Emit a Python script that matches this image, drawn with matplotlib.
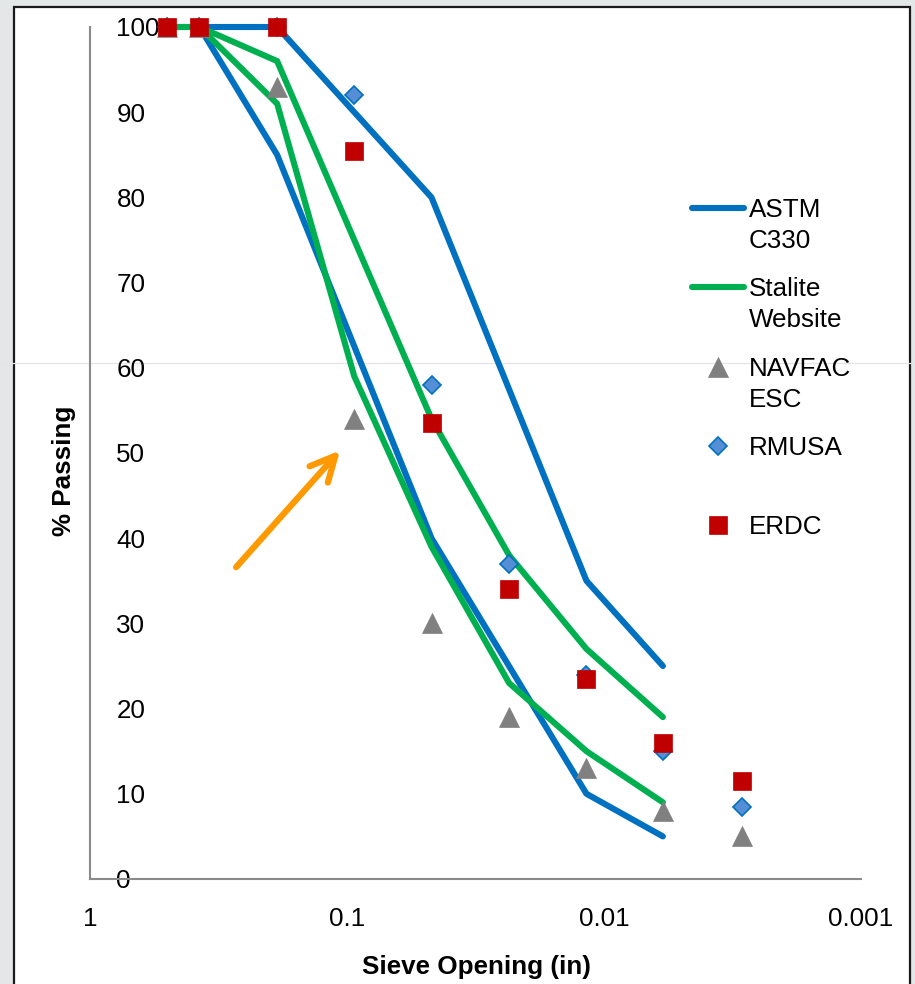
import matplotlib
matplotlib.use('Agg')
import matplotlib.pyplot as plt
from matplotlib.lines import Line2D
from matplotlib.patches import Rectangle
from matplotlib.ticker import NullLocator, FixedLocator

plt.rcParams['font.family'] = ['Liberation Sans', 'DejaVu Sans']

# ---------------- data ----------------
sieve_in = [0.5, 0.375, 0.187, 0.0937, 0.0469, 0.0234, 0.0117, 0.0059, 0.0029]

astm_x = [0.375, 0.187, 0.0469, 0.0117, 0.0059]
astm_upper = [100, 100, 80, 35, 25]
astm_lower = [100, 85, 40, 10, 5]

stalite_x = [0.5, 0.375, 0.187, 0.0937, 0.0469, 0.0234, 0.0117, 0.0059]
stalite_upper = [100, 100, 96, 75, 54, 38, 27, 19]
stalite_lower = [100, 100, 91, 59, 39, 23, 15, 9]

navfac = [100, 100, 93, 54, 30, 19, 13, 8, 5]
rmusa = [100, 100, 100, 92, 58, 37, 24, 15, 8.5]
erdc = [100, 100, 100, 85.5, 53.5, 34, 23.5, 16, 11.5]

x_ticks = [1, 0.1, 0.01, 0.001]
x_tick_labels = ['1', '0.1', '0.01', '0.001']
y_ticks = [0, 10, 20, 30, 40, 50, 60, 70, 80, 90, 100]

legend_labels = ['ASTM\nC330', 'Stalite\nWebsite', 'NAVFAC\nESC', 'RMUSA', 'ERDC']

# ---------------- style ----------------
W, H = 915, 984
BLUE = '#0070C0'
GREEN = '#00B050'
GREY = '#808080'
DIAM = '#558ED5'
RED = '#C00000'
FS = 18.7

fig = plt.figure(figsize=(W / 100, H / 100), dpi=100, facecolor='#e4e7e7')
fig.patches.append(Rectangle((14 / W, -0.02), (910 - 14) / W, (H - 7) / H + 0.02,
                             transform=fig.transFigure, facecolor='white',
                             edgecolor='#1a1a1a', lw=1.6, zorder=-10))

ax = fig.add_axes([90 / W, 1 - 879 / H, 771 / W, 852 / H])
ax.set_zorder(1)
ax.patch.set_alpha(0)
ax.set_xscale('log')
ax.set_xlim(1, 0.001)
ax.set_ylim(0, 100)

lw = 4.4
TRI_MS, DIA_MS, SQ_MS = 15.0, 9.2, 12.6
for yv in (astm_upper, astm_lower):
    ax.plot(astm_x, yv, color=BLUE, lw=lw, solid_capstyle='round',
            solid_joinstyle='round', clip_on=False, zorder=3)
for yv in (stalite_upper, stalite_lower):
    ax.plot(stalite_x, yv, color=GREEN, lw=lw, solid_capstyle='round',
            solid_joinstyle='round', clip_on=False, zorder=4)

ax.plot(sieve_in, navfac, ls='none', marker='^', ms=TRI_MS, mfc=GREY, mec=GREY,
        mew=0.5, clip_on=False, zorder=5)
ax.plot(sieve_in, rmusa, ls='none', marker='D', ms=DIA_MS, mfc=DIAM, mec=BLUE,
        mew=1.2, clip_on=False, zorder=6)
ax.plot(sieve_in, erdc, ls='none', marker='s', ms=SQ_MS, mfc=RED, mec=RED,
        mew=0.5, clip_on=False, zorder=7)

# arrow annotation
ax.annotate('', xy=(0.1064, 50.3), xytext=(0.270, 36.6),
            arrowprops=dict(arrowstyle='->,head_length=0.9,head_width=0.44',
                            color='#FF9900', lw=4.5, mutation_scale=20,
                            shrinkA=0, shrinkB=0, capstyle='round'),
            zorder=8)

# axes styling
for s in ('top', 'right'):
    ax.spines[s].set_visible(False)
for s in ('left', 'bottom'):
    ax.spines[s].set_color('#8a8a8a')
    ax.spines[s].set_linewidth(1.5)

ax.xaxis.set_major_locator(FixedLocator(x_ticks))
ax.xaxis.set_minor_locator(NullLocator())
ax.set_xticklabels(x_tick_labels)
ax.set_yticks(y_ticks)
ax.set_yticklabels([str(v) for v in y_ticks])
ax.tick_params(axis='x', length=0, pad=20, labelsize=FS)
ax.tick_params(axis='y', length=0, pad=-19, labelsize=FS)
for lab in ax.get_yticklabels():
    lab.set_horizontalalignment('left')

fig.text(476 / W, 1 - 967 / H, 'Sieve Opening (in)', ha='center', va='center',
         fontsize=FS, fontweight='bold')
fig.text(64 / W, 1 - 471 / H, '% Passing', ha='center', va='center',
         rotation=90, fontsize=FS, fontweight='bold')

# legend (manual, to keep handles aligned with the first text line)
leg_y = [208, 287, 367, 446, 525]
handles = [
    dict(color=BLUE, lw=lw, solid_capstyle='round'),
    dict(color=GREEN, lw=lw, solid_capstyle='round'),
    dict(ls='none', marker='^', ms=TRI_MS, mfc=GREY, mec=GREY, mew=0.5),
    dict(ls='none', marker='D', ms=DIA_MS, mfc=DIAM, mec=BLUE, mew=1.2),
    dict(ls='none', marker='s', ms=SQ_MS, mfc=RED, mec=RED, mew=0.5),
]
for yy, lab, hd in zip(leg_y, legend_labels, handles):
    yf = 1 - yy / H
    if hd.get('ls') == 'none':
        fig.add_artist(Line2D([718 / W], [yf], **hd))
    else:
        fig.add_artist(Line2D([692 / W, 744 / W], [yf, yf], **hd))
    fig.text(749 / W, 1 - (yy - 10.3) / H, lab, ha='left', va='top',
             fontsize=FS, linespacing=1.4)

# faint background guide line
fig.add_artist(Line2D([0, 1], [1 - 363 / H] * 2, color='#e2e5e5', lw=0.9, zorder=0.5))

fig.savefig('out.png', dpi=100, facecolor=fig.get_facecolor())
